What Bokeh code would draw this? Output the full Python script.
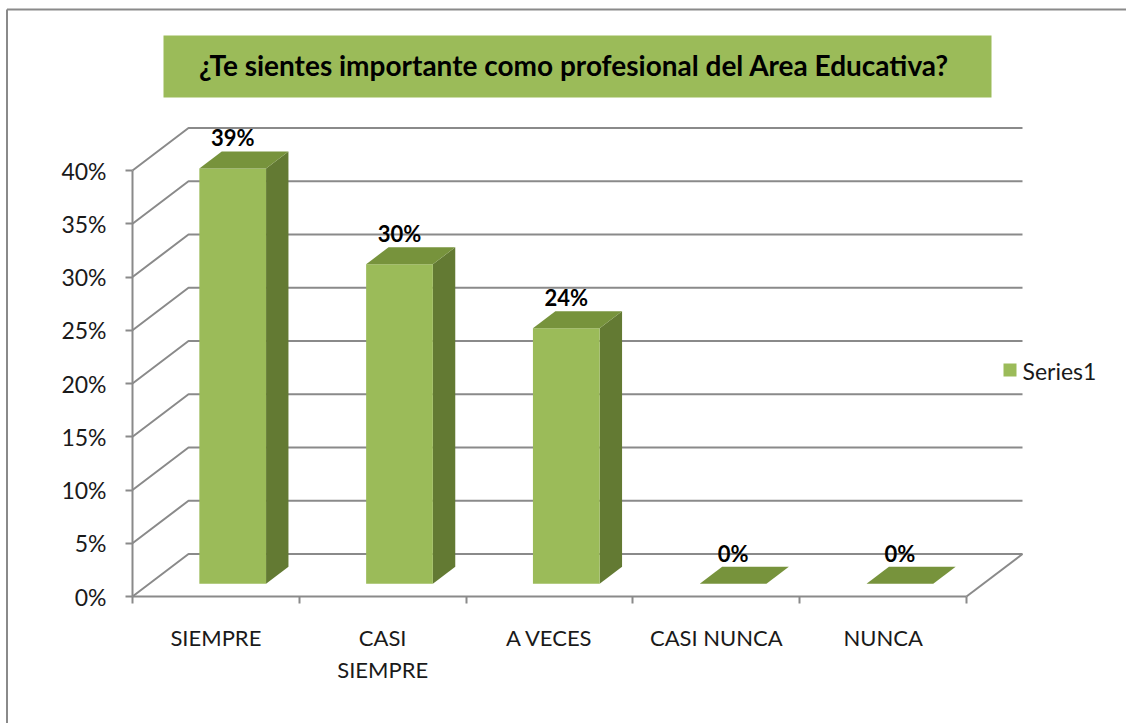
from bokeh.plotting import figure
from bokeh.models import LinearAxis, FixedTicker, Range1d
from bokeh.embed import file_html
from bokeh.resources import INLINE
from bokeh.core.properties import value

# ---------------- data ----------------
title_text = "¿Te sientes importante como profesional  del Area Educativa?"
categories = ["SIEMPRE", "CASI\nSIEMPRE", "A VECES", "CASI NUNCA", "NUNCA"]
values = [39, 30, 24, 0, 0]
value_labels = ["39%", "30%", "24%", "0%", "0%"]
y_ticks = [0, 5, 10, 15, 20, 25, 30, 35, 40]
y_tick_labels = ["0%", "5%", "10%", "15%", "20%", "25%", "30%", "35%", "40%"]
series_name = "Series1"

# ---------------- layout / style ----------------
W, H = 1126, 723
X0_PX, Y0_PX = 132, 596          # front axis origin inside the canvas (from left / top)
SX, SY = 166.8, 10.65            # px per category, px per percent
DX, DY = 56 / SX, 42.5 / SY      # 3D depth offset in data units
BAR_W = 0.4
D0, D1 = 0.3, 0.7                # depth span of the bars
GRID = "#8a8a8a"
FRONT, TOP, SIDE = "#9BBB59", "#77933C", "#637A33"
FONT = "Lato"


def cx(px):
    return (px - X0_PX) / SX


def cy(py):
    return (Y0_PX - py) / SY


n = len(categories)
y_max = y_ticks[-1]

p = figure(width=W, height=H, output_backend="svg", toolbar_location=None,
           x_axis_type=None, y_axis_type=None,
           x_range=Range1d(cx(0), cx(W)),
           y_range=Range1d(cy(H), cy(0)),
           min_border=0, min_border_left=0, min_border_right=0,
           min_border_top=0, min_border_bottom=0)
p.outline_line_color = None
p.background_fill_color = "white"
p.border_fill_color = "white"

# outer chart border (left and top visible)
p.segment(x0=[cx(6.5), cx(6.5)], y0=[cy(9), cy(9)], x1=[cx(6.5), cx(W + 5)], y1=[cy(H + 5), cy(9)],
          line_color=GRID, line_width=2)

# title box
p.quad(left=[cx(163)], right=[cx(991)], top=[cy(35)], bottom=[cy(97)],
       fill_color=FRONT, line_color=None)
p.text(x=[cx(577)], y=[cy(64)], text=[title_text], text_font=value(FONT),
       text_font_style="bold", text_font_size="28px", text_align="center",
       text_baseline="middle", text_color="black")

# walls: gridlines (side diagonal + back horizontal)
for t in y_ticks:
    p.line(x=[0, DX, n + DX], y=[t, t + DY, t + DY], line_color=GRID, line_width=2)
# floor right edge
p.line(x=[n, n + DX], y=[0, DY], line_color=GRID, line_width=2)

# bars
for i, v in enumerate(values):
    L = i + 0.5 - BAR_W / 2
    R = i + 0.5 + BAR_W / 2
    fx, fy = D0 * DX, D0 * DY
    bx, by = D1 * DX, D1 * DY
    # side face
    p.patch(x=[R + fx, R + bx, R + bx, R + fx], y=[fy, by, by + v, fy + v],
            fill_color=SIDE, line_color=None)
    # front face
    if v > 0:
        p.quad(left=[L + fx], right=[R + fx], bottom=[fy], top=[fy + v],
               fill_color=FRONT, line_color=None)
    # top face
    p.patch(x=[L + fx, R + fx, R + bx, L + bx], y=[fy + v, fy + v, by + v, by + v],
            fill_color=TOP, line_color=None)
    # value label
    p.text(x=[i + 0.5 + fx], y=[v + by], text=[value_labels[i]], text_font=value(FONT),
           text_font_style="bold", text_font_size="22px", text_align="center",
           text_baseline="bottom", text_color="black")

# y axis (front)
yaxis = LinearAxis(fixed_location=0, ticker=FixedTicker(ticks=y_ticks),
                   major_label_overrides={t: l for t, l in zip(y_ticks, y_tick_labels)},
                   bounds=(0, y_max))
yaxis.axis_line_color = GRID
yaxis.axis_line_width = 2
yaxis.major_tick_line_color = GRID
yaxis.major_tick_line_width = 2
yaxis.major_tick_out = 7
yaxis.major_tick_in = 0
yaxis.minor_tick_out = 0
yaxis.minor_tick_in = 0
yaxis.major_label_standoff = 19
yaxis.major_label_text_font = FONT
yaxis.major_label_text_font_size = "23px"
yaxis.major_label_text_color = "#1a1a1a"
p.add_layout(yaxis, "left")

# x axis (front floor edge)
centers = [i + 0.5 for i in range(n)]
xaxis = LinearAxis(fixed_location=0,
                   ticker=FixedTicker(ticks=centers, minor_ticks=list(range(n + 1))),
                   major_label_overrides={c: l for c, l in zip(centers, categories)},
                   bounds=(0, n))
xaxis.axis_line_color = GRID
xaxis.axis_line_width = 2
xaxis.major_tick_out = 0
xaxis.major_tick_in = 0
xaxis.major_tick_line_color = None
xaxis.minor_tick_out = 7
xaxis.minor_tick_in = 0
xaxis.minor_tick_line_color = GRID
xaxis.minor_tick_line_width = 2
xaxis.major_label_standoff = 20
xaxis.major_label_text_font = FONT
xaxis.major_label_text_font_size = "22px"
xaxis.major_label_text_color = "#1a1a1a"
p.add_layout(xaxis, "below")

# legend
p.scatter(x=[cx(1009.5)], y=[cy(369.5)], marker="square", size=13,
          fill_color=FRONT, line_color=None)
p.text(x=[cx(1022)], y=[cy(370)], text=[series_name], text_font=value(FONT),
       text_font_size="23px", text_align="left", text_baseline="middle",
       text_color="#1a1a1a")

open("out.html", "w").write(file_html(p, INLINE))
